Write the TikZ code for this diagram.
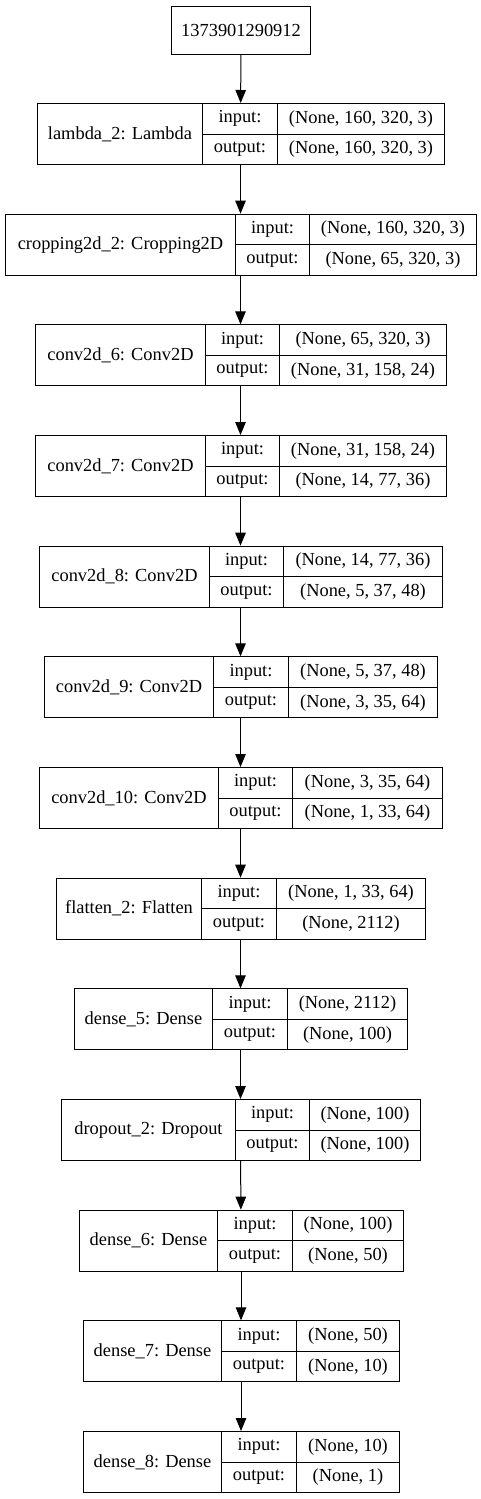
\documentclass[tikz,border=0pt]{standalone}
\usepackage{fontspec}
\setmainfont{Liberation Serif}
\usetikzlibrary{arrows.meta}
\tikzset{
  cell/.style={draw=black, line width=1pt, inner sep=0pt, anchor=north west,
    font=\fontsize{18.4}{20}\selectfont, text=black},
  wholebox/.style={draw=black, line width=1pt, inner sep=0pt, anchor=north},
  arr/.style={draw=black, line width=1pt, -{Triangle[length=13pt,width=10.5pt]}},
}
\newcommand\kerasLayer[9]{%
  \pgfmathsetmacro\ytop{103+110.667*#2}
  \pgfmathsetmacro\ymid{\ytop+30.5}
  \pgfmathsetmacro\wa{#4-#3}
  \pgfmathsetmacro\wb{#5-#4}
  \pgfmathsetmacro\wc{#6-#5}
  \pgfmathsetmacro\wt{#6-#3}
  \pgfmathsetmacro\xc{(#3+#6)/2}
  \node[wholebox, minimum width=\wt pt, minimum height=61pt] (#1) at (\xc,\ytop) {};
  \node[cell, minimum width=\wa pt, minimum height=61pt] (#1-n) at (#3,\ytop) {#7};
  \node[cell, minimum width=\wb pt, minimum height=30.5pt] (#1-ik) at (#4,\ytop) {input:};
  \node[cell, minimum width=\wb pt, minimum height=30.5pt] (#1-ok) at (#4,\ymid) {output:};
  \node[cell, minimum width=\wc pt, minimum height=30.5pt] (#1-iv) at (#5,\ytop) {#8};
  \node[cell, minimum width=\wc pt, minimum height=30.5pt] (#1-ov) at (#5,\ymid) {#9};
}
\begin{document}
\begin{tikzpicture}[x=1pt,y=-1pt]
\useasboundingbox[fill=white] (0,0) rectangle (481,1499);
\node[cell, minimum width=139pt, minimum height=48pt] (in) at (171,6) {1373901290912};
\kerasLayer{L0}{0}{37}{202}{277}{444}{lambda\_2: Lambda}{(None, 160, 320, 3)}{(None, 160, 320, 3)}
\kerasLayer{L1}{1}{5}{235}{309}{476}{cropping2d\_2: Cropping2D}{(None, 160, 320, 3)}{(None, 65, 320, 3)}
\kerasLayer{L2}{2}{35}{205}{279}{446}{conv2d\_6: Conv2D}{(None, 65, 320, 3)}{(None, 31, 158, 24)}
\kerasLayer{L3}{3}{35}{205}{279}{446}{conv2d\_7: Conv2D}{(None, 31, 158, 24)}{(None, 14, 77, 36)}
\kerasLayer{L4}{4}{39}{209}{283}{442}{conv2d\_8: Conv2D}{(None, 14, 77, 36)}{(None, 5, 37, 48)}
\kerasLayer{L5}{5}{44}{213}{288}{437}{conv2d\_9: Conv2D}{(None, 5, 37, 48)}{(None, 3, 35, 64)}
\kerasLayer{L6}{6}{39}{218}{292}{442}{conv2d\_10: Conv2D}{(None, 3, 35, 64)}{(None, 1, 33, 64)}
\kerasLayer{L7}{7}{56}{201}{276}{425}{flatten\_2: Flatten}{(None, 1, 33, 64)}{(None, 2112)}
\kerasLayer{L8}{8}{74}{212}{287}{407}{dense\_5: Dense}{(None, 2112)}{(None, 100)}
\kerasLayer{L9}{9}{61}{235}{309}{420}{dropout\_2: Dropout}{(None, 100)}{(None, 100)}
\kerasLayer{L10}{10}{79}{217}{292}{403}{dense\_6: Dense}{(None, 100)}{(None, 50)}
\kerasLayer{L11}{11}{83}{221}{296}{399}{dense\_7: Dense}{(None, 50)}{(None, 10)}
\kerasLayer{L12}{12}{83}{221}{296}{399}{dense\_8: Dense}{(None, 10)}{(None, 1)}
\draw[arr] (in) -- (L0);
\foreach \a/\b in {0/1,1/2,2/3,3/4,4/5,5/6,6/7,7/8,8/9,9/10,10/11,11/12}
  \draw[arr] (L\a) -- (L\b);
\end{tikzpicture}
\end{document}
